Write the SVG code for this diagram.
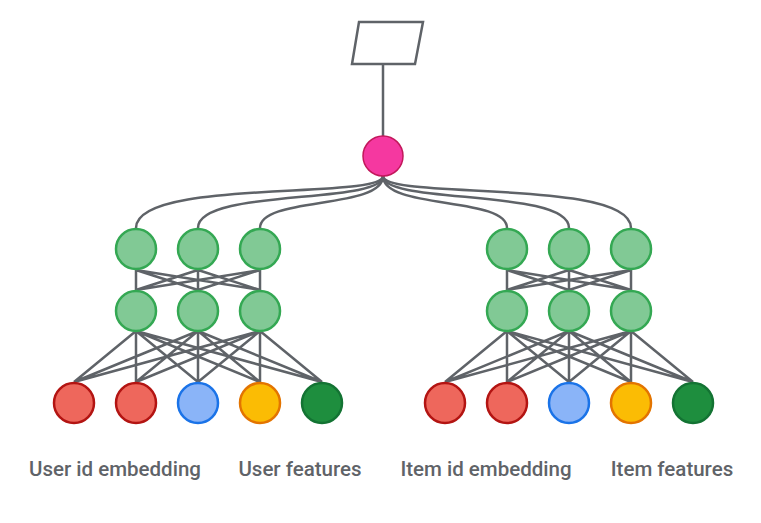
<svg xmlns="http://www.w3.org/2000/svg" width="761" height="523" viewBox="0 0 761 523">
<style>
.e{stroke:#5f6368;stroke-width:2.5;fill:none}
.g{fill:#81c995;stroke:#34a853;stroke-width:2.5}
.r{fill:#ee675c;stroke:#b31412;stroke-width:2.5}
.b{fill:#8ab4f8;stroke:#1a73e8;stroke-width:2.5}
.y{fill:#fbbc04;stroke:#e37400;stroke-width:2.5}
.d{fill:#1e8e3e;stroke:#137333;stroke-width:2.5}
.p{fill:#f538a0;stroke:#c2185b;stroke-width:1.5}
text{font-family:Roboto,"Liberation Sans",sans-serif;font-size:20.5px;font-weight:500;fill:#5f6368;text-anchor:middle}
</style>
<rect width="761" height="523" fill="#fff"/>
<g id="connectors" class="e">
<path d="M383,64 V136"/>
<path d="M383,176 C383,200 136,178 136,228"/>
<path d="M383,176 C383,205 198,188 198,228"/>
<path d="M383,176 C383,210 260,196 260,228"/>
<path d="M383,176 C383,200 631,178 631,228"/>
<path d="M383,176 C383,205 569,188 569,228"/>
<path d="M383,176 C383,210 507,196 507,228"/>
<path d="M136,270 L136,290 M136,270 L198,290 M136,270 L260,290 M198,270 L136,290 M198,270 L198,290 M198,270 L260,290 M260,270 L136,290 M260,270 L198,290 M260,270 L260,290"/>
<path d="M507,270 L507,290 M507,270 L569,290 M507,270 L631,290 M569,270 L507,290 M569,270 L569,290 M569,270 L631,290 M631,270 L507,290 M631,270 L569,290 M631,270 L631,290"/>
<path d="M136,331 L74,382 M136,331 L136,382 M136,331 L198,382 M136,331 L260,382 M136,331 L322,382 M198,331 L74,382 M198,331 L136,382 M198,331 L198,382 M198,331 L260,382 M198,331 L322,382 M260,331 L74,382 M260,331 L136,382 M260,331 L198,382 M260,331 L260,382 M260,331 L322,382"/>
<path d="M507,331 L445,382 M507,331 L507,382 M507,331 L569,382 M507,331 L631,382 M507,331 L693,382 M569,331 L445,382 M569,331 L507,382 M569,331 L569,382 M569,331 L631,382 M569,331 L693,382 M631,331 L445,382 M631,331 L507,382 M631,331 L569,382 M631,331 L631,382 M631,331 L693,382"/>
</g>
<g id="output"><polygon points="359,22 423,22 415,64 352,64" fill="#fff" stroke="#5f6368" stroke-width="2.5"/></g>
<g id="top"><circle class="p" cx="383" cy="156" r="20"/></g>
<g id="u-h1"><circle class="g" cx="136" cy="249" r="20"/><circle class="g" cx="198" cy="249" r="20"/><circle class="g" cx="260" cy="249" r="20"/></g>
<g id="u-h2"><circle class="g" cx="136" cy="311" r="20"/><circle class="g" cx="198" cy="311" r="20"/><circle class="g" cx="260" cy="311" r="20"/></g>
<g id="i-h1"><circle class="g" cx="507" cy="249" r="20"/><circle class="g" cx="569" cy="249" r="20"/><circle class="g" cx="631" cy="249" r="20"/></g>
<g id="i-h2"><circle class="g" cx="507" cy="311" r="20"/><circle class="g" cx="569" cy="311" r="20"/><circle class="g" cx="631" cy="311" r="20"/></g>
<g id="u-in"><circle class="r" cx="74" cy="403" r="20"/><circle class="r" cx="136" cy="403" r="20"/><circle class="b" cx="198" cy="403" r="20"/><circle class="y" cx="260" cy="403" r="20"/><circle class="d" cx="322" cy="403" r="20"/></g>
<g id="i-in"><circle class="r" cx="445" cy="403" r="20"/><circle class="r" cx="507" cy="403" r="20"/><circle class="b" cx="569" cy="403" r="20"/><circle class="y" cx="631" cy="403" r="20"/><circle class="d" cx="693" cy="403" r="20"/></g>
<g id="labels">
<text x="115" y="476">User id embedding</text>
<text x="300" y="476">User features</text>
<text x="486" y="476">Item id embedding</text>
<text x="672" y="476">Item features</text>
</g>
</svg>
